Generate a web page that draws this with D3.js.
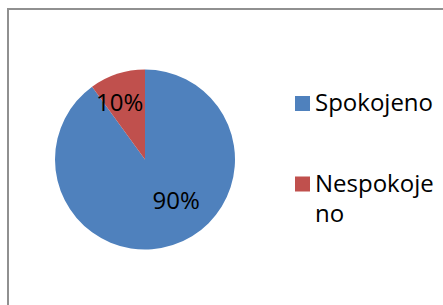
<!DOCTYPE html>
<html lang="sl">
<head>
<meta charset="UTF-8">
<title>Spokojeno / Nespokojeno</title>
<script src="https://d3js.org/d3.v7.min.js"></script>
<style>
    body, html { margin: 0; padding: 0; background: #fff; }
    svg { display: block; }
    text { font-family: "Open Sans", "Noto Sans", sans-serif; fill: #000; }
</style>
</head>
<body>
<div id="chart"></div>
<script>
    // data
    var categories = ["Spokojeno", "Nespokojeno"];
    var values = [90, 10];
    var pctLabels = ["90%", "10%"];
    var legendLines = [["Spokojeno"], ["Nespokoje", "no"]];
    var colors = ["#4F81BD", "#C0504D"];

    var width = 443, height = 305;
    var svg = d3.select("#chart").append("svg")
        .attr("width", width)
        .attr("height", height);

    // chart frame, runs off the right and bottom edges
    svg.append("rect")
        .attr("x", 8).attr("y", 9)
        .attr("width", 460).attr("height", 320)
        .attr("fill", "none")
        .attr("stroke", "#909090")
        .attr("stroke-width", 2);

    var cx = 145, cy = 159.5, r = 90;
    var pie = d3.pie().sort(null).value(d => d);
    var arcs = pie(values);
    var arc = d3.arc().innerRadius(0).outerRadius(r);
    var labelArc = d3.arc().innerRadius(r * 0.62).outerRadius(r * 0.62);

    var g = svg.append("g").attr("transform", "translate(" + cx + "," + cy + ")");
    g.selectAll("path").data(arcs).enter().append("path")
        .attr("d", arc)
        .attr("fill", (d, i) => colors[i]);

    // excel "best fit" nudges (baseline placement)
    var nudge = [[14, -3.5], [-8, 4.5]];
    g.selectAll("text.pct").data(arcs).enter().append("text")
        .attr("class", "pct")
        .attr("transform", (d, i) => {
            var c = labelArc.centroid(d);
            return "translate(" + (c[0] + nudge[i][0]) + "," + (c[1] + nudge[i][1]) + ")";
        })
        .attr("text-anchor", "middle")
        .style("font-size", "24px")
        .text((d, i) => pctLabels[i]);

    // legend
    var legendY = d3.scaleOrdinal().domain(categories).range([103.5, 184]);
    var leg = svg.selectAll("g.leg").data(categories).enter().append("g")
        .attr("class", "leg")
        .attr("transform", d => "translate(295," + legendY(d) + ")");
    leg.append("rect")
        .attr("x", 0).attr("y", -7.5)
        .attr("width", 15).attr("height", 15)
        .attr("fill", (d, i) => colors[i]);
    leg.each(function (d, i) {
        var t = d3.select(this).append("text")
            .attr("x", 20).attr("y", 7.5)
            .style("font-size", "24px");
        legendLines[i].forEach(function (line, j) {
            t.append("tspan").attr("x", 20).attr("dy", j === 0 ? 0 : 30).text(line);
        });
    });
</script>
</body>
</html>
